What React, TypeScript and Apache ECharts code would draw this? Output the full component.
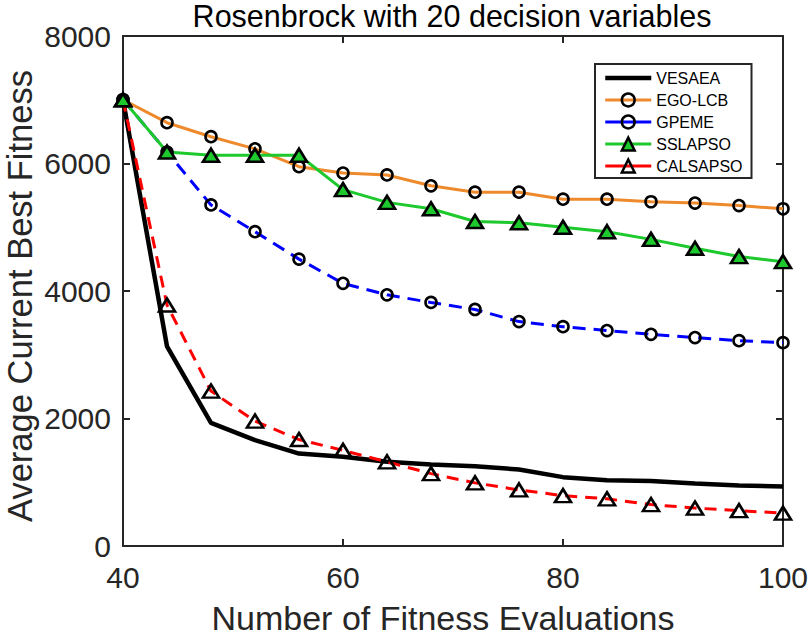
import React, { useEffect, useRef } from "react";
import * as echarts from "echarts";

// Number of fitness evaluations at which the best fitness was recorded
const evaluations = [40, 44, 48, 52, 56, 60, 64, 68, 72, 76, 80, 84, 88, 92, 96, 100];

// Average current best fitness per algorithm
const vesaea = [7000, 3130, 1930, 1660, 1450, 1400, 1320, 1280, 1250, 1200, 1080, 1030, 1020, 980, 950, 935];
const egoLcb = [7000, 6640, 6420, 6230, 5950, 5850, 5820, 5650, 5550, 5550, 5440, 5440, 5400, 5380, 5340, 5290];
const gpeme = [7000, 6180, 5350, 4930, 4500, 4120, 3940, 3820, 3710, 3520, 3440, 3380, 3320, 3270, 3220, 3190];
const sslapso = [7000, 6180, 6130, 6130, 6130, 5590, 5390, 5290, 5090, 5070, 5000, 4930, 4810, 4670, 4540, 4460];
const calsapso = [7000, 3780, 2430, 1960, 1670, 1500, 1320, 1135, 990, 880, 790, 740, 650, 595, 555, 515];

const xTicks = [40, 60, 80, 100];
const yTicks = [0, 2000, 4000, 6000, 8000];

const FONT = '"Liberation Sans", Arial, Helvetica, sans-serif';
const AXIS = "#262626";
const HOLLOW = "rgba(255,255,255,0)";

const pairs = (ys: number[]) => evaluations.map((x, i) => [x, ys[i]]);

export default function App() {
  const ref = useRef<HTMLDivElement>(null);

  useEffect(() => {
    if (!ref.current) return;
    const chart = echarts.init(ref.current, null, { renderer: "svg" });

    const axisCommon = {
      axisLine: { show: true, onZero: false, lineStyle: { color: AXIS, width: 2 } },
      axisTick: { show: true, inside: true, length: 7, lineStyle: { color: AXIS, width: 2 } },
      splitLine: { show: false },
    };

    chart.setOption({
      animation: false,
      backgroundColor: "#fff",
      title: {
        text: "Rosenbrock with 20 decision variables",
        left: 452,
        textAlign: "center",
        top: 0,
        padding: 0,
        textStyle: {
          fontFamily: FONT,
          fontSize: 30.5,
          lineHeight: 31,
          fontWeight: "normal",
          color: "#000",
        },
      },
      // vertical y-axis title
      graphic: [
        {
          type: "text",
          x: 20,
          y: 296,
          rotation: Math.PI / 2,
          style: {
            text: "Average Current Best Fitness",
            fontFamily: FONT,
            fontSize: 34.5,
            fill: AXIS,
            align: "center",
            verticalAlign: "middle",
          },
        },
      ],
      grid: {
        left: 123,
        right: 26,
        top: 36,
        bottom: 90,
        containLabel: false,
        outerBoundsMode: "none",
      },
      legend: {
        orient: "vertical",
        left: 595,
        top: 64,
        padding: [6, 9, 4, 8],
        itemWidth: 46,
        itemHeight: 16,
        itemGap: 6,
        borderColor: AXIS,
        borderWidth: 2,
        borderRadius: 0,
        backgroundColor: "#fff",
        lineStyle: { width: 3, type: "solid" },
        itemStyle: { borderWidth: 2.5 },
        textStyle: { fontFamily: FONT, fontSize: 16, color: "#000" },
        data: [
          { name: "VESAEA", itemStyle: { opacity: 0 }, lineStyle: { width: 4.5 } },
          { name: "EGO-LCB" },
          { name: "GPEME" },
          { name: "SSLAPSO" },
          { name: "CALSAPSO" },
        ],
      },
      xAxis: [
        {
          type: "value",
          min: 40,
          max: 100,
          interval: 20,
          position: "bottom",
          name: "Number of Fitness Evaluations",
          nameLocation: "middle",
          nameGap: 55,
          nameTextStyle: {
            fontFamily: FONT,
            fontSize: 34,
            lineHeight: 34,
            color: AXIS,
            padding: [0, 20, 0, 0],
          },
          axisLabel: {
            fontFamily: FONT,
            fontSize: 30,
            color: AXIS,
            margin: 16,
            formatter: (v: number) => (xTicks.includes(v) ? String(v) : ""),
          },
          ...axisCommon,
        },
        {
          type: "value",
          min: 40,
          max: 100,
          interval: 20,
          position: "top",
          axisLabel: { show: false },
          ...axisCommon,
        },
      ],
      yAxis: [
        {
          type: "value",
          min: 0,
          max: 8000,
          interval: 2000,
          position: "left",
          axisLabel: {
            fontFamily: FONT,
            fontSize: 30,
            color: AXIS,
            margin: 12,
            formatter: (v: number) => (yTicks.includes(v) ? String(v) : ""),
          },
          ...axisCommon,
        },
        {
          type: "value",
          min: 0,
          max: 8000,
          interval: 2000,
          position: "right",
          axisLabel: { show: false },
          ...axisCommon,
        },
      ],
      series: [
        {
          name: "VESAEA",
          type: "line",
          data: pairs(vesaea),
          symbol: "none",
          lineStyle: { color: "#000", width: 4.5 },
          itemStyle: { color: "#000" },
        },
        {
          name: "EGO-LCB",
          type: "line",
          data: pairs(egoLcb),
          symbol: "circle",
          symbolSize: 11,
          lineStyle: { color: "#EE8A2C", width: 3 },
          itemStyle: { color: HOLLOW, borderColor: "#000", borderWidth: 2.6 },
        },
        {
          name: "GPEME",
          type: "line",
          data: pairs(gpeme),
          symbol: "circle",
          symbolSize: 11,
          lineStyle: { color: "#0000FF", width: 3, type: [13, 8] },
          itemStyle: { color: HOLLOW, borderColor: "#000", borderWidth: 2.6 },
        },
        {
          name: "SSLAPSO",
          type: "line",
          data: pairs(sslapso),
          symbol: "triangle",
          symbolSize: [16, 13],
          lineStyle: { color: "#1DC92C", width: 3 },
          itemStyle: { color: "#1DC92C", borderColor: "#000", borderWidth: 2.6 },
        },
        {
          name: "CALSAPSO",
          type: "line",
          data: pairs(calsapso),
          symbol: "triangle",
          symbolSize: [16, 13],
          lineStyle: { color: "#FF0000", width: 3, type: [12, 8] },
          itemStyle: { color: HOLLOW, borderColor: "#000", borderWidth: 2.6 },
        },
      ],
    });

    return () => chart.dispose();
  }, []);

  return (
    <div
      ref={ref}
      style={{ position: "fixed", left: 0, top: 0, width: 809, height: 636, overflow: "hidden" }}
    />
  );
}
